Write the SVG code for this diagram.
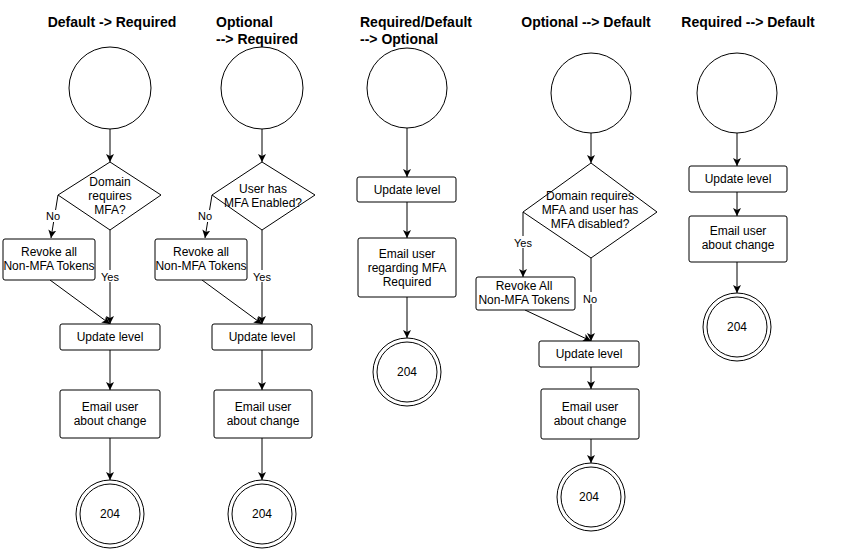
<svg xmlns="http://www.w3.org/2000/svg" width="859" height="555" viewBox="0 0 859 555">
<style>
text{font-family:"Liberation Sans",Arial,sans-serif;font-size:12px;fill:#000}
.t{font-size:14px;font-weight:bold}
.c{text-anchor:middle}
.l{font-size:11px}
.s{fill:#fff;stroke:#000;stroke-width:1}
.e{fill:none;stroke:#000;stroke-width:1;marker-end:url(#a)}
</style>
<defs><marker id="a" markerWidth="10" markerHeight="10" refX="8" refY="4" orient="auto" markerUnits="userSpaceOnUse"><path d="M0,0L8,4L0,8L2,4z"/></marker></defs>
<rect width="859" height="555" fill="#fff"/>
<g id="titles">
<text class="t c" x="112" y="27">Default -&gt; Required</text>
<text class="t" x="216" y="27">Optional</text><text class="t" x="216" y="44">--&gt; Required</text>
<text class="t" x="360" y="27">Required/Default</text><text class="t" x="360" y="44">--&gt; Optional</text>
<text class="t c" x="586" y="27">Optional --&gt; Default</text>
<text class="t c" x="748" y="27">Required --&gt; Default</text>
</g>
<g id="connectors">
<path class="e" d="M110,129V162"/><path class="e" d="M58,195L51,238"/><path class="e" d="M110,230V324"/><path class="e" d="M50,280L110,324"/><path class="e" d="M110,350V390"/><path class="e" d="M110,438V480"/>
<path class="e" d="M262,129V162"/><path class="e" d="M212,195L205,238"/><path class="e" d="M262,230V324"/><path class="e" d="M202,280L262,324"/><path class="e" d="M262,350V390"/><path class="e" d="M262,438V480"/>
<path class="e" d="M407,128V177"/><path class="e" d="M407,202V238"/><path class="e" d="M407,297V338"/>
<path class="e" d="M591,133V163"/><path class="e" d="M523,212V277"/><path class="e" d="M591,258V341"/><path class="e" d="M525,310L591,341"/><path class="e" d="M591,367V389"/><path class="e" d="M591,439V463"/>
<path class="e" d="M737,133V166"/><path class="e" d="M737,192V216"/><path class="e" d="M737,262V293"/>
</g>
<g id="labels">
<rect x="45" y="210" width="16" height="12" fill="#fff"/><text class="l c" x="53" y="220">No</text>
<rect x="100" y="270" width="20" height="12" fill="#fff"/><text class="l c" x="110" y="281">Yes</text>
<rect x="197" y="210" width="16" height="12" fill="#fff"/><text class="l c" x="205" y="220">No</text>
<rect x="252" y="270" width="20" height="12" fill="#fff"/><text class="l c" x="262" y="281">Yes</text>
<rect x="512" y="236" width="20" height="12" fill="#fff"/><text class="l c" x="523" y="247">Yes</text>
<rect x="582" y="292" width="18" height="12" fill="#fff"/><text class="l c" x="590" y="303">No</text>
</g>
<g id="col1">
<circle class="s" cx="110" cy="88" r="41"/>
<path class="s" d="M110,162L161,195L110,230L58,195z"/>
<text class="c" x="110" y="186">Domain</text><text class="c" x="110" y="200">requires</text><text class="c" x="110" y="214">MFA?</text>
<rect class="s" x="3" y="239" width="92" height="41" rx="2"/><text class="c" x="49" y="256">Revoke all</text><text class="c" x="49" y="270">Non-MFA Tokens</text>
<rect class="s" x="60" y="324" width="100" height="26" rx="2"/><text class="c" x="110" y="341">Update level</text>
<rect class="s" x="60" y="390" width="100" height="48" rx="2"/><text class="c" x="110" y="411">Email user</text><text class="c" x="110" y="425">about change</text>
<circle class="s" cx="110" cy="514" r="34"/><circle class="s" cx="110" cy="514" r="30"/><text class="c" x="110" y="518">204</text>
</g>
<g id="col2">
<circle class="s" cx="262" cy="88" r="41"/>
<path class="s" d="M262,162L315,195L262,230L212,195z"/>
<text class="c" x="263" y="193">User has</text><text class="c" x="263" y="207">MFA Enabled?</text>
<rect class="s" x="155" y="239" width="92" height="41" rx="2"/><text class="c" x="201" y="256">Revoke all</text><text class="c" x="201" y="270">Non-MFA Tokens</text>
<rect class="s" x="212" y="324" width="100" height="26" rx="2"/><text class="c" x="262" y="341">Update level</text>
<rect class="s" x="214" y="390" width="98" height="48" rx="2"/><text class="c" x="263" y="411">Email user</text><text class="c" x="263" y="425">about change</text>
<circle class="s" cx="262" cy="514" r="34"/><circle class="s" cx="262" cy="514" r="30"/><text class="c" x="262" y="518">204</text>
</g>
<g id="col3">
<circle class="s" cx="407" cy="88" r="40"/>
<rect class="s" x="357" y="177" width="99" height="25" rx="2"/><text class="c" x="407" y="194">Update level</text>
<rect class="s" x="358" y="238" width="98" height="59" rx="2"/><text class="c" x="407" y="258">Email user</text><text class="c" x="407" y="272">regarding MFA</text><text class="c" x="407" y="286">Required</text>
<circle class="s" cx="407" cy="372" r="34"/><circle class="s" cx="407" cy="372" r="30"/><text class="c" x="407" y="376">204</text>
</g>
<g id="col4">
<circle class="s" cx="591" cy="93" r="40"/>
<path class="s" d="M591,163L657,212L591,258L523,212z"/>
<text class="c" x="590" y="200">Domain requires</text><text class="c" x="590" y="214">MFA and user has</text><text class="c" x="590" y="228">MFA disabled?</text>
<rect class="s" x="476" y="277" width="99" height="33" rx="2"/><text class="c" x="524" y="290">Revoke All</text><text class="c" x="524" y="304">Non-MFA Tokens</text>
<rect class="s" x="539" y="341" width="100" height="26" rx="2"/><text class="c" x="589" y="358">Update level</text>
<rect class="s" x="541" y="389" width="98" height="50" rx="2"/><text class="c" x="590" y="411">Email user</text><text class="c" x="590" y="425">about change</text>
<circle class="s" cx="591" cy="497" r="34"/><circle class="s" cx="591" cy="497" r="30"/><text class="c" x="589" y="501">204</text>
</g>
<g id="col5">
<circle class="s" cx="737" cy="93" r="40"/>
<rect class="s" x="689" y="166" width="98" height="26" rx="2"/><text class="c" x="738" y="183">Update level</text>
<rect class="s" x="689" y="216" width="98" height="46" rx="2"/><text class="c" x="738" y="235">Email user</text><text class="c" x="738" y="249">about change</text>
<circle class="s" cx="737" cy="327" r="34"/><circle class="s" cx="737" cy="327" r="30"/><text class="c" x="737" y="331">204</text>
</g>
</svg>
